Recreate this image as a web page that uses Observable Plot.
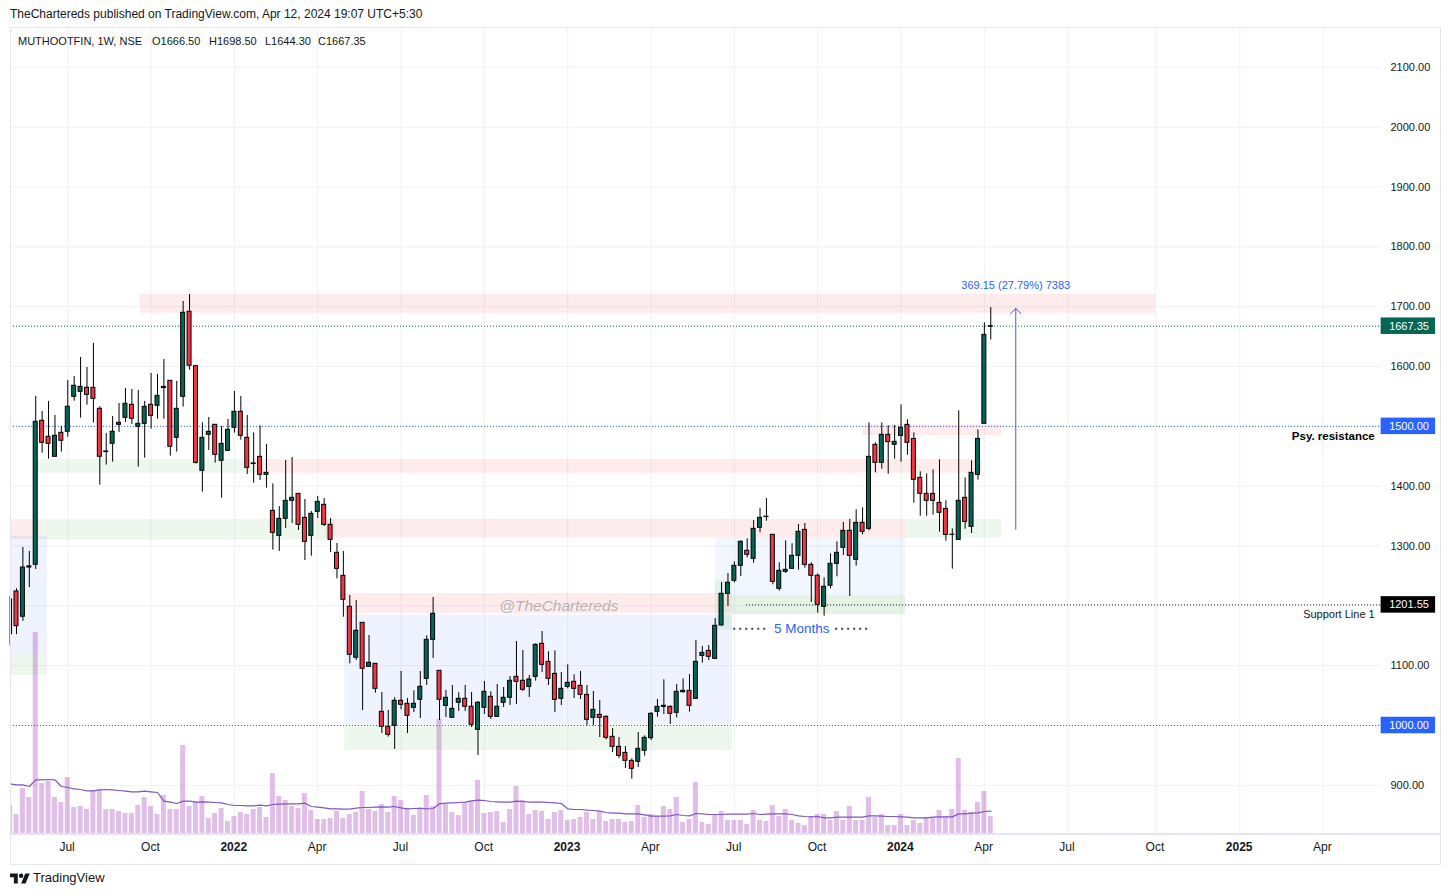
<!DOCTYPE html>
<html><head><meta charset="utf-8">
<style>
html,body{margin:0;padding:0;background:#fff;overflow:hidden}
#wrap{position:relative;width:1450px;height:896px;font-family:"Liberation Sans",sans-serif;color:#131722}
#wrap>svg{position:absolute;left:0;top:0}
.t{position:absolute;white-space:pre;font-size:12px;line-height:14px;z-index:2}
.l{font-size:11px;top:34px}
.frame{position:absolute;border:1px solid #e4e6ee;box-sizing:border-box;pointer-events:none}
</style>
<script src="https://cdn.jsdelivr.net/npm/d3@7"></script>
<script src="https://cdn.jsdelivr.net/npm/@observablehq/plot@0.6"></script>
</head><body><div id="wrap">
<div class="t" style="left:10px;top:7px">TheChartereds published on TradingView.com, Apr 12, 2024 19:07 UTC+5:30</div>
<div class="t l" style="left:18px">MUTHOOTFIN, 1W, NSE</div>
<div class="t l" style="left:152px">O1666.50</div>
<div class="t l" style="left:209px">H1698.50</div>
<div class="t l" style="left:265px">L1644.30</div>
<div class="t l" style="left:318px">C1667.35</div>
<svg class="logo" style="position:absolute;left:10px;top:871px;z-index:2" width="20" height="16" viewBox="0 0 36 28" fill="#131722"><path d="M14 22H7V11H0V4h14v18zM28 22h-8l7.5-18h8L28 22z"/><circle cx="20" cy="8" r="4"/></svg>
<div class="t" style="left:33px;top:871px;font-size:13px">TradingView</div>
</div>
<script>
const firstBar = Date.UTC(2021, 4, 3);
const barDate = i => new Date(firstBar + i * 7 * 864e5);

const opens = [1152.6,1224,1181.7,1264,1268.6,1509.3,1482.5,1449.1,1489.2,1490.9,1549.4,1557.7,1564.4,1564.4,1529.3,1458,1470.8,1502.6,1514.3,1536,1499.2,1504.2,1536,1534.3,1564,1576.1,1480.8,1549.4,1691.4,1600.6,1425.7,1485.9,1502.6,1442.4,1459.1,1497.6,1524.3,1480.8,1438,1449,1418.9,1358.8,1317,1345.4,1375.5,1387.2,1347,1317,1357.1,1368.8,1335.4,1288.6,1250.2,1198.4,1113.2,1171.6,1098.1,1103.1,1022.9,997.8,999.5,1041.3,1036.3,1029.6,1043,1078,1143.2,1091.4,1032.9,1012.9,1038,1044.6,1031.3,992.8,1029.6,1048,1014.5,1038,1046.3,1081.4,1074.7,1064.6,1081.3,1136.5,1106.4,1086.3,1044.6,1064.6,1073,1066.3,1051.2,1012.8,1017.8,1014.5,981.1,964.3,954.3,940.9,939.3,957.7,978.8,1022.8,1031.2,1031.2,1021.2,1055.7,1057.9,1044.6,1116.4,1124.8,1111.4,1167.2,1220.1,1241.8,1266.9,1292,1278.6,1330.4,1348.2,1318.7,1228.4,1256.9,1261.9,1283.6,1327,1268.5,1250.2,1198.4,1233.5,1270.2,1297,1325.4,1276.9,1338.7,1328.7,1469.1,1439,1485.8,1469.1,1484.1,1502.5,1479,1413.9,1387.2,1387.2,1372.1,1362.1,1318.6,1310.3,1380.5,1332,1418.9,1504.2,1666.5];
const highs = [1215.6,1228.5,1297.5,1291,1550,1524.9,1541.6,1518.2,1499.8,1576.7,1583.4,1615.1,1598.4,1638.5,1532.7,1488,1516.5,1538.2,1563.3,1561.6,1560,1541.6,1588.4,1586.7,1611.8,1576.1,1575,1708.7,1720.4,1600.6,1505.9,1514.8,1502.6,1499.8,1511.5,1558.3,1550,1518.2,1489.2,1500.8,1469.6,1403.9,1366,1442.9,1447.9,1387.2,1377.7,1357.7,1382.7,1379.4,1346,1304.2,1290.8,1217.3,1209,1171.6,1150.5,1103.1,1055.2,1025.1,1046.3,1090.3,1045.2,1058,1090.3,1149.9,1214,1091.4,1058.6,1066.9,1054.7,1066.9,1055.2,1040,1073.6,1056.3,1068.6,1063.6,1081.9,1140.4,1125.4,1083.6,1136.5,1157.1,1123.1,1124.8,1088.6,1101.4,1084.7,1090.3,1066.9,1056.8,1041.8,1016,995,979.9,964.9,944.3,988.3,982.7,1021.7,1043.5,1076.3,1032.9,1068.5,1078,1085.2,1142,1132,1133.7,1178.8,1239,1254.1,1273.6,1308.7,1312,1342.6,1362.7,1379.4,1318.7,1271.9,1308.7,1303.7,1336,1337.6,1272,1253.5,1246.8,1286.9,1307,1339.3,1344.3,1360.5,1363.8,1505.8,1472.4,1505.8,1500.8,1501.4,1535.9,1510.8,1489.1,1424,1420.6,1427.3,1444,1375.5,1328.7,1525.9,1413.9,1442.3,1494.1,1673,1698.5];
const lows = [1134,1152,1174,1230.6,1260.7,1455.2,1445.2,1449.1,1456.9,1482,1542.1,1513.7,1535.4,1505.4,1401.7,1435.2,1440.2,1489.8,1506.5,1503.1,1431.8,1446.9,1495.3,1512,1512,1450.2,1456.9,1532.1,1593.9,1436.8,1390,1459.7,1438.5,1380,1459,1488.6,1476.9,1419.6,1405.1,1409.5,1396.7,1293,1290.8,1329.2,1337.6,1325.9,1275.8,1283,1346,1332.6,1289.1,1245.1,1181.1,1103.1,1108.7,1025.1,1098,1054.1,986.7,980.6,959.9,1026.2,986.7,1021.8,1011.8,1066.9,1112,1008.4,1013.4,1012.9,1023.5,1023.5,996.7,949.9,1018.4,1010.1,1014.5,1030.1,1033.5,1035.2,1056.9,1046.8,1074.1,1088.6,1066.9,1021.7,1033.4,1061.3,1045.1,1043.4,999.4,999.4,980,976,954.9,944.8,928.1,910.3,929.8,948.7,974.9,1013.9,1018.4,1001.7,1012.8,1054,1022.3,1044.6,1104.2,1108.6,1111.4,1166,1198.9,1238.5,1249,1280.3,1271.3,1322,1341.5,1235.1,1224.5,1254.1,1261.9,1259.6,1263,1205.6,1187.8,1182.8,1228.4,1248.5,1284.1,1215.6,1266.3,1318.7,1325.3,1422.3,1428.4,1420,1445.1,1440.1,1451.8,1371.6,1349.8,1349.8,1351.5,1323.1,1308,1261.3,1310.3,1328.1,1320.9,1410,1504.2,1644.3];
const closes = [1210.6,1166,1264,1266,1507.6,1472.5,1470.8,1484.2,1475.8,1532.7,1567.8,1566,1552.7,1546,1449.1,1457,1490.9,1505.9,1537.7,1512.6,1504.2,1532.7,1517.6,1551,1566,1465.8,1529.3,1689.8,1601.2,1439,1480.8,1490.9,1452.4,1470.8,1494.2,1524.3,1484.2,1430.7,1437,1418.9,1422.3,1322,1345.4,1375.5,1380.5,1335.4,1306.9,1353.8,1373.8,1335.4,1310.3,1261.8,1210.1,1118.2,1158.3,1094.8,1104.8,1061.3,997.8,984.5,1041.3,1034.6,1016.2,1036.3,1064.7,1143.2,1186.7,1043,1046.3,1027.9,1044.6,1031.3,1001.2,1038,1056.3,1014.5,1031.3,1046.3,1074.7,1073,1059.7,1076.9,1134.8,1101.4,1078,1042.9,1061.3,1071.3,1061.3,1051.2,1009.5,1026.2,1012.8,979.4,964.3,949.3,940.9,927.6,961,979.4,1019.5,1031.2,1032.9,1019.5,1056.3,1057.9,1032.9,1106.4,1121.4,1114.8,1166.6,1220.1,1238.5,1266.9,1307,1285.3,1328.7,1347.1,1349,1240.1,1258.5,1260.2,1283.6,1323.7,1268.5,1250.2,1201.7,1231.8,1270.2,1288.6,1325.4,1283.6,1338.7,1323.7,1449,1439,1485.8,1473.5,1474.1,1497.5,1472.4,1410.6,1387.2,1375.5,1375.5,1355.4,1318.6,1318.9,1375.5,1340.4,1422.3,1479,1652.9,1667.35];
const volumes = [840,570,1350,1080,6030,1500,1560,1080,930,1680,780,810,720,1290,1320,720,720,660,600,600,840,1080,810,570,1140,720,720,2640,810,930,1110,450,600,750,360,510,630,570,720,780,480,1800,1110,990,810,750,1200,690,420,420,450,660,450,570,630,1260,720,660,870,630,1110,990,750,540,780,1140,810,3420,870,630,540,930,960,1590,600,630,660,330,720,1410,990,570,690,660,420,630,690,390,420,480,630,420,660,360,420,420,330,360,840,480,570,510,810,720,1080,330,420,1530,330,270,570,660,390,390,390,270,690,390,360,840,510,720,390,300,240,510,570,570,390,660,390,810,390,390,1080,480,570,240,240,570,240,390,300,480,480,690,510,720,2250,690,630,930,1260,510];
const volumeMA = [1490,1460,1460,1410,1610,1610,1620,1610,1410,1380,1340,1320,1280,1280,1310,1320,1310,1290,1270,1250,1250,1270,1250,1230,970,940,900,970,970,940,950,940,930,920,870,840,840,830,830,850,830,870,880,890,890,890,910,810,790,770,740,740,730,730,760,780,780,790,800,790,810,770,740,750,750,740,750,890,910,920,930,940,980,1000,990,960,950,940,940,970,960,940,940,940,930,920,900,740,720,720,700,690,670,630,610,610,590,590,590,560,520,520,520,530,570,540,530,600,590,570,570,570,580,580,580,580,600,570,580,590,590,590,570,530,510,500,510,470,470,490,490,490,490,490,530,530,520,510,510,500,490,470,470,470,490,500,500,500,590,590,610,620,660,670];
const yMin = 819.5, yMax = 2166.6;
const volBase = v => yMin + v * 0.05571;

const bars = opens.map((o, i) => ({i, date: barDate(i), o, h: highs[i], l: lows[i], c: closes[i], v: volumes[i], ma: volumeMA[i]}));

const priceTicks = [900,1000,1100,1200,1300,1400,1500,1600,1700,1800,1900,2000,2100];
const axisPriceTicks = priceTicks.filter(p => p !== 1000 && p !== 1200 && p !== 1500);
const monthTickDates = ["2021-07-05","2021-10-04","2022-04-04","2022-07-04","2022-10-03","2023-04-03","2023-07-03","2023-10-02","2024-04-01","2024-07-01","2024-10-05","2025-04-06"].map(d => new Date(d));
const monthTickLabels = ["Jul","Oct","Apr","Jul","Oct","Apr","Jul","Oct","Apr","Jul","Oct","Apr"];
const yearTickDates = ["2022-01-03","2023-01-02","2024-01-01","2025-01-05"].map(d => new Date(d));
const yearTickLabels = ["2022","2023","2024","2025"];

const RED = "#f23645", GREEN = "#4caf50", BLUE = "#2962ff";
const zones = [
  {from:20.35,to:178.7,top:1720.4,bottom:1689.1,fill:RED,op:.1},
  {from:4.3,to:39.85,top:1444.6,bottom:1421.7,fill:GREEN,op:.1},
  {from:39.85,to:151.7,top:1444.6,bottom:1421.7,fill:RED,op:.1},
  {from:0.07,to:4.9,top:1344,bottom:1311,fill:RED,op:.1},
  {from:4.9,to:50.8,top:1344,bottom:1310,fill:GREEN,op:.1},
  {from:49.2,to:139.7,top:1344.3,bottom:1313,fill:RED,op:.1},
  {from:139.7,to:154.7,top:1344.3,bottom:1313,fill:GREEN,op:.1},
  {from:0.07,to:5.85,top:1315.9,bottom:1118.7,fill:BLUE,op:.08},
  {from:0.07,to:5.85,top:1118.7,bottom:1083.6,fill:GREEN,op:.1},
  {from:52.2,to:112.7,top:1220.6,bottom:1187.2,fill:RED,op:.1},
  {from:52.2,to:112.7,top:1184.4,bottom:1001.7,fill:BLUE,op:.08},
  {from:52.2,to:112.7,top:998.3,bottom:958.2,fill:GREEN,op:.1},
  {from:110.05,to:139.7,top:1312.5,bottom:1217.3,fill:BLUE,op:.06},
  {from:112.7,to:139.7,top:1217.3,bottom:1185.5,fill:GREEN,op:.15},
  {from:110.05,to:112.7,top:1242.4,bottom:1158.8,fill:GREEN,op:.1},
  {from:133.1,to:154.7,top:1502.6,bottom:1484.7,fill:RED,op:.1}
];
const priceLines = [
  {from:0.07,value:1667.35,stroke:"#056656"},
  {from:0.07,value:1500,stroke:BLUE},
  {from:0.07,value:1000,stroke:BLUE},
  {from:114.9,value:1201.55,stroke:"#131722"}
];
const lastBarPad = 213.9;
const tags = [
  {value:1667.35,label:"1667.35",fill:"#056656"},
  {value:1500,label:"1500.00",fill:BLUE},
  {value:1000,label:"1000.00",fill:BLUE},
  {value:1201.55,label:"1201.55",fill:"#000"}
];
const notes = [
  {at:156.9,value:1735.4,text:"369.15 (27.79%) 7383",fill:BLUE,size:11,anchor:"middle",weight:"normal",style:"normal",op:1},
  {at:85.6,value:1200.5,text:"@TheChartereds",fill:"#8a8a8a",size:15.5,anchor:"middle",weight:"normal",style:"italic",op:.6},
  {at:123.5,value:1161.5,text:"5 Months",fill:BLUE,size:13.5,anchor:"middle",weight:"normal",style:"normal",op:1},
  {at:212.9,value:1483,text:"Psy. resistance",fill:"#000",size:11.5,anchor:"end",weight:"bold",style:"normal",op:1},
  {at:212.9,value:1185.5,text:"Support Line 1",fill:"#131722",size:11,anchor:"end",weight:"normal",style:"normal",op:1}
];
const dotted = [{from:112.9,to:118},{from:128.8,to:134}];
const measure = [{at:156.9,from:1328,to:1697}];

const bodyHalf = 2.18, volHalf = 2.73, DAY = 864e5;
const off = (d, days) => new Date(+d + days * DAY);
const tagHalf = 13.8;

const chart = Plot.plot({
  width: 1450, height: 896,
  marginLeft: 10, marginRight: 69, marginTop: 27, marginBottom: 63,
  style: {background: "#fff", fontFamily: "'Liberation Sans',sans-serif", color: "#131722"},
  x: {type: "utc", domain: [new Date("2021-05-03T11:00Z"), new Date("2025-06-08T17:00Z")], axis: null},
  y: {domain: [yMin, yMax], axis: null},
  marks: [
    Plot.gridX([...monthTickDates, ...yearTickDates], {stroke: "#eff1f4", strokeOpacity: 1}),
    Plot.gridY(priceTicks, {stroke: "#eff1f4", strokeOpacity: 1}),
    Plot.rect(bars, {x1: d => off(d.date, -volHalf), x2: d => off(d.date, volHalf), y1: volBase(0), y2: d => volBase(d.v), fill: "#9c27b0", fillOpacity: .3, clip: true}),
    Plot.lineY(bars, {x: "date", y: d => volBase(d.ma), stroke: "#7e57c2", strokeWidth: 1.2, clip: true}),
    Plot.rect(zones, {x1: d => barDate(d.from), x2: d => barDate(d.to), y1: "bottom", y2: "top", fill: "fill", fillOpacity: "op"}),
    ...priceLines.map(l => Plot.ruleY([l.value], {x1: barDate(l.from), x2: barDate(lastBarPad), stroke: l.stroke, strokeDasharray: "1,2", strokeWidth: 1})),
    ...dotted.map(s => Plot.ruleY([1161.5], {x1: barDate(s.from), x2: barDate(s.to), stroke: "#444", strokeWidth: 2, strokeDasharray: "2,4"})),
    Plot.ruleX(bars, {x: "date", y1: "l", y2: "h", stroke: "#000", strokeWidth: 1}),
    Plot.rect(bars, {x1: d => off(d.date, -bodyHalf), x2: d => off(d.date, bodyHalf), y1: "o", y2: "c", fill: d => d.c >= d.o ? "#056656" : RED, stroke: "#000", strokeWidth: 1, clip: true}),
    Plot.arrow(measure, {x: d => barDate(d.at), y1: "from", y2: "to", stroke: "#3f62e0", strokeWidth: 1, headAngle: 90, headLength: 11, bend: 0}),
    ...notes.map(n => Plot.text([n], {x: d => barDate(d.at), y: "value", text: "text", fill: n.fill, fontSize: n.size, textAnchor: n.anchor, fontWeight: n.weight, fontStyle: n.style, fillOpacity: n.op})),
    Plot.rect(tags, {x1: barDate(lastBarPad), x2: barDate(222.4), y1: d => d.value - tagHalf, y2: d => d.value + tagHalf, fill: "fill"}),
    Plot.text(tags, {x: barDate(218.25), y: "value", text: "label", fill: "#fff", fontSize: 11}),
    Plot.axisY(axisPriceTicks, {anchor: "right", tickSize: 0, tickPadding: 9, tickFormat: d3.format(".2f"), label: null, fontSize: 11, fill: "#131722"}),
    Plot.axisX(monthTickDates, {anchor: "bottom", tickSize: 0, tickPadding: 9, dx: -0.7, tickFormat: (d, i) => monthTickLabels[i], label: null, fontSize: 12, fill: "#131722"}),
    Plot.axisX(yearTickDates, {anchor: "bottom", tickSize: 0, tickPadding: 9, dx: -0.7, tickFormat: (d, i) => yearTickLabels[i], label: null, fontSize: 12, fontWeight: "bold", fill: "#131722"})
  ]
});
const wrap = document.getElementById("wrap");
wrap.prepend(chart);
const f1 = document.createElement("div"); f1.className = "frame";
f1.style.cssText = "left:10px;top:27px;width:1431px;height:838px";
wrap.appendChild(f1);
const f2 = document.createElement("div"); f2.className = "frame";
f2.style.cssText = "left:10px;top:833px;width:1431px;height:1px";
wrap.appendChild(f2);
</script></body></html>
